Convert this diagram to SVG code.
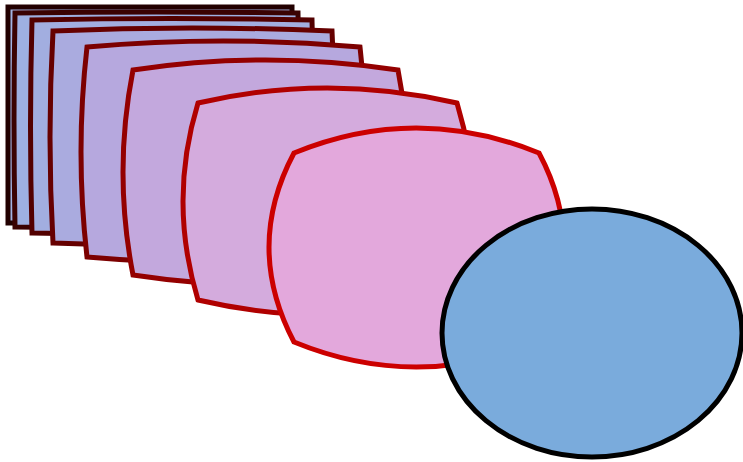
<svg xmlns="http://www.w3.org/2000/svg" width="743" height="462" viewBox="0 0 743 462">
<style>
.s{stroke-width:5;stroke-linejoin:miter}
</style>
<rect width="743" height="462" fill="#ffffff"/>
<g id="shape1"><path class="s" d="M8,7 L292,7 L292,223 L8,223 Z" fill="#a3b3e3" stroke="#220000"/></g>
<g id="shape2"><path class="s" d="M15,13 Q156,11 298,13 Q300,120 298,227 Q156,229 15,227 Q13,120 15,13 Z" fill="#9eb0e2" stroke="#3a0202"/></g>
<g id="shape3"><path class="s" d="M32,20 Q172,17 312,20 Q315,126 312,233 Q172,236 32,233 Q29,126 32,20 Z" fill="#a2aee0" stroke="#520000"/></g>
<g id="shape4"><path class="s" d="M53,31 Q192,25 332,31 Q338,137 332,243 Q192,249 53,243 Q47,137 53,31 Z" fill="#aaabdf" stroke="#660000"/></g>
<g id="shape5"><path class="s" d="M87,47 Q223,35 360,47 Q372,152 360,257 Q223,269 87,257 Q75,152 87,47 Z" fill="#b6a8de" stroke="#7c0000"/></g>
<g id="shape6"><path class="s" d="M133,70 Q265,50 398,70 Q418,172 398,275 Q265,295 133,275 Q113,172 133,70 Z" fill="#c3a8dd" stroke="#940000"/></g>
<g id="shape7"><path class="s" d="M198,103 Q327,73 457,103 Q487,201 457,300 Q327,330 198,300 Q168,201 198,103 Z" fill="#d4abdd" stroke="#b00000"/></g>
<g id="shape8"><path class="s" d="M294,153 Q416,103 539,153 Q589,247 539,342 Q416,392 294,342 Q244,247 294,153 Z" fill="#e3a8dc" stroke="#cc0000"/></g>
<g id="ellipse"><ellipse cx="592" cy="333" rx="150" ry="124" fill="#7aabdc" stroke="#000000" stroke-width="5"/></g>
</svg>
